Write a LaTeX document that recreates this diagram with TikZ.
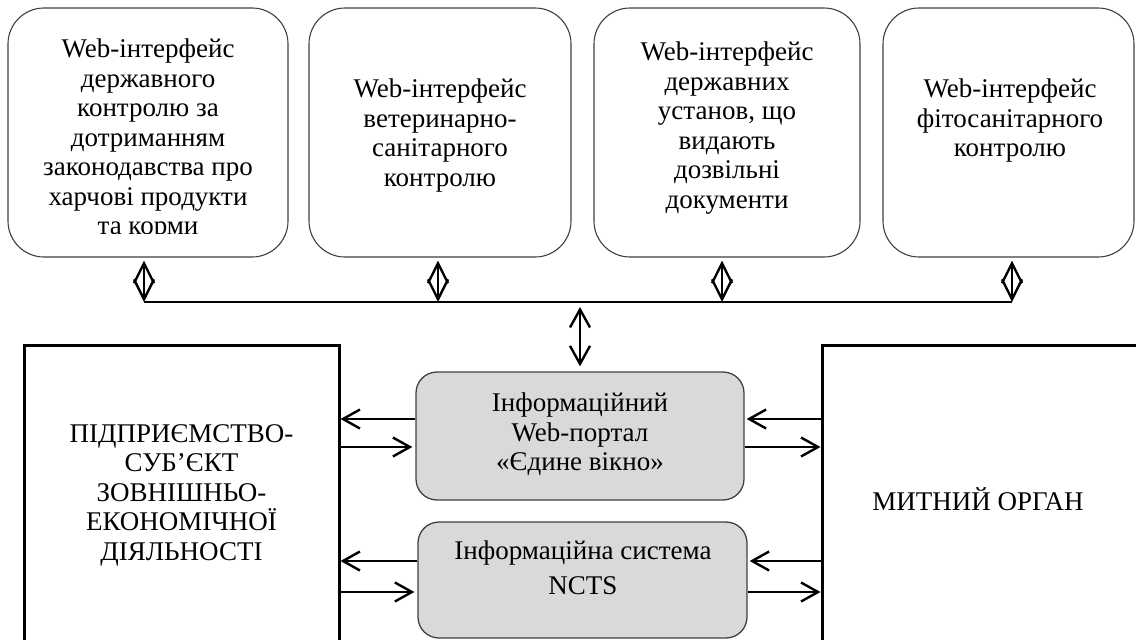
\documentclass[tikz,border=0pt]{standalone}
\usepackage{fontspec}
\setmainfont{Liberation Serif}
\usetikzlibrary{arrows.meta,calc}
\begin{document}
\begin{tikzpicture}[x=1pt,y=-1pt,
  font=\fontsize{27}{29.5}\selectfont,
  topbox/.style={draw=black!75, line width=1.1pt, rounded corners=36pt, inner sep=0pt, fill=white},
  graybox/.style={draw=black!75, line width=1.3pt, rounded corners=21pt, fill=black!15, inner sep=0pt},
  bigbox/.style={draw=black, line width=3pt, inner sep=0pt},
  txt/.style={align=center, inner sep=0pt, anchor=north},
  arr/.style={line width=2.4pt, -{Straight Barb[length=17pt,width=19pt]}},
  dbl/.style={line width=2.4pt, {Straight Barb[length=20pt,width=20pt]}-{Straight Barb[length=20pt,width=20pt]}},
  dblc/.style={line width=2.4pt, {Straight Barb[length=18pt,width=20pt]}-{Straight Barb[length=18pt,width=20pt]}},
  bus/.style={line width=2.4pt}
]
\useasboundingbox (0,0) rectangle (1136,640);
\clip (0,0) rectangle (1136,640);

% top row boxes
\node[topbox, minimum width=280pt, minimum height=249pt] (b1) at (148,132.5) {};
\node[topbox, minimum width=262pt, minimum height=249pt] (b2) at (440,132.5) {};
\node[topbox, minimum width=266pt, minimum height=249pt] (b3) at (727,132.5) {};
\node[topbox, minimum width=251pt, minimum height=249pt] (b4) at (1008.5,132.5) {};

\begin{scope}
  \clip (8,8) rectangle (288,233);
  \node[txt] (t1) at (148,39) {Web-інтерфейс\\державного\\контролю за\\дотриманням\\законодавства про\\харчові продукти\\та корми};
\end{scope}
\node[txt] (t2) at (440,79) {Web-інтерфейс\\ветеринарно-\\санітарного\\контролю};
\node[txt] (t3) at (727,42) {Web-інтерфейс\\державних\\установ, що\\видають\\дозвільні\\документи};
\node[txt] (t4) at (1010,79) {Web-інтерфейс\\фітосанітарного\\контролю};

% big boxes
\node[bigbox, minimum width=315pt, minimum height=310pt] (lb) at (181.5,500) {};
\node[bigbox, minimum width=328pt, minimum height=310pt] (rb) at (986,500) {};
\node[txt] (tl) at (181.5,424) {ПІДПРИЄМСТВО-\\СУБ’ЄКТ\\ЗОВНІШНЬО-\\ЕКОНОМІЧНОЇ\\ДІЯЛЬНОСТІ};
\node[txt] (tr) at (978,487) {МИТНИЙ ОРГАН};

% gray boxes
\node[graybox, minimum width=328pt, minimum height=128pt] (portal) at (580,436) {};
\node[graybox, minimum width=329pt, minimum height=116pt] (ncts) at (582.5,580) {};
\node[txt] (tp) at (580,393) {Інформаційний\\Web-портал\\«Єдине вікно»};
\node[txt] (tn) at (583,541) {Інформаційна система\\[5pt]NCTS};

% bus and double arrows
\coordinate (a1) at (144,302);
\coordinate (a2) at (438,302);
\coordinate (a3) at (722,302);
\coordinate (a4) at (1012,302);
\coordinate (ac) at (580,302);
\draw[bus] (a1) -- (a4);
\draw[dbl, shorten >=3pt] (a1) -- (a1 |- b1.south);
\draw[dbl, shorten >=3pt] (a2) -- (a2 |- b2.south);
\draw[dbl, shorten >=3pt] (a3) -- (a3 |- b3.south);
\draw[dbl, shorten >=3pt] (a4) -- (a4 |- b4.south);
\draw[dblc, shorten <=5pt, shorten >=5pt] (ac) -- (portal.north);

% horizontal arrows
\coordinate (y1) at (0,419);
\coordinate (y2) at (0,447);
\coordinate (y3) at (0,561);
\coordinate (y4) at (0,592);
\draw[arr] (portal.west |- y1) -- (lb.east |- y1);
\draw[arr] (lb.east |- y2) -- ([xshift=-3pt]portal.west |- y2);
\draw[arr] (rb.west |- y1) -- ([xshift=2pt]portal.east |- y1);
\draw[arr] (portal.east |- y2) -- (rb.west |- y2);
\draw[arr] (ncts.west |- y3) -- (lb.east |- y3);
\draw[arr] (lb.east |- y4) -- ([xshift=-3pt]ncts.west |- y4);
\draw[arr] (rb.west |- y3) -- ([xshift=2pt]ncts.east |- y3);
\draw[arr] (ncts.east |- y4) -- (rb.west |- y4);
\end{tikzpicture}
\end{document}
